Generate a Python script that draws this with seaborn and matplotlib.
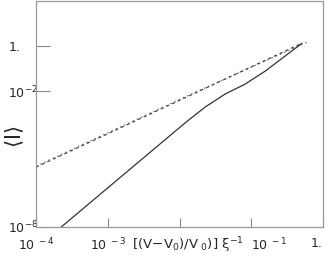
import matplotlib
matplotlib.use("Agg")
import matplotlib.pyplot as plt
import seaborn as sns
import pandas as pd

# ---- data ----
x_solid = [2.23e-4, 1.233e-2, 2.265e-2, 4.31e-2, 8.18e-2, 0.1556, 0.2951, 0.509]
y_solid = [9.8e-9, 4.37e-4, 2.0e-3, 7.6e-3, 2.09e-2, 7.8e-2, 0.363, 1.35]

x_dash = [1.0e-4, 1.233e-2, 0.509]
y_dash = [4.47e-6, 5.5e-3, 1.35]

x_dot = [1.0e-4, 1.233e-2, 0.598]
y_dot = [4.9e-6, 6.0e-3, 1.5]

x_ticks = [1e-4, 1e-3, 1e-2, 1e-1, 1.0]
x_ticklabels = [r"$\mathregular{10^{\ -4}}$", r"$\mathregular{10^{\ -3}}$", "",
                r"$\mathregular{10^{\ -1}}$", "1."]
y_ticks = [1e-8, 1e-2, 1.0]
y_ticklabels = [r"$\mathregular{10^{-8}}$", r"$\mathregular{10^{-2}}$", "1."]

x_label = r"$\mathregular{[(V\!-\!V_0)/V_{\ 0})]\ \xi^{-1}}$"
y_label = r"$\mathregular{\langle I \rangle}$"

sns.set_style("white")
plt.rcParams["font.family"] = ["DejaVu Sans"]

fig = plt.figure(figsize=(3.31, 2.57), dpi=100)
ax = fig.add_axes([36 / 331, 1 - 227 / 257, 287 / 331, 226 / 257])
ax.set_xscale("log")
ax.set_yscale("log")

df_s = pd.DataFrame({"x": x_solid, "y": y_solid})
df_d = pd.DataFrame({"x": x_dash, "y": y_dash})
df_o = pd.DataFrame({"x": x_dot, "y": y_dot})

sns.lineplot(data=df_o, x="x", y="y", ax=ax, color="#777777", lw=0.9,
             estimator=None, sort=False)
ax.lines[-1].set_dashes([1.2, 2.5])
sns.lineplot(data=df_d, x="x", y="y", ax=ax, color="#444444", lw=0.9,
             estimator=None, sort=False)
ax.lines[-1].set_dashes([2.5, 2.5])
sns.lineplot(data=df_s, x="x", y="y", ax=ax, color="#333333", lw=0.9,
             estimator=None, sort=False)

ax.set_xlim(1e-4, 1.0)
ax.set_ylim(1e-8, 1e2)

ax.set_xticks(x_ticks)
ax.set_xticklabels(x_ticklabels)
ax.set_yticks(y_ticks)
ax.set_yticklabels(y_ticklabels)
ax.minorticks_off()

ax.tick_params(axis="x", direction="in", length=6.5, width=0.8, color="#888888",
               pad=7, labelsize=9, bottom=True)
ax.tick_params(axis="y", direction="in", length=10, width=0.8, color="#888888",
               pad=20, labelsize=9, left=True)
for t in ax.get_yticklabels():
    t.set_horizontalalignment("left")
    t.set_verticalalignment("center_baseline")
xl = ax.get_xticklabels()
xl[3].set_horizontalalignment("left")
xl[4].set_horizontalalignment("right")

for s in ax.spines.values():
    s.set_color("#999999")
    s.set_linewidth(0.9)

ax.set_xlabel(x_label, fontsize=9.5)
ax.xaxis.set_label_coords(0.53, -0.082)
ax.xaxis.label.set_verticalalignment("center")
ax.set_ylabel(y_label, fontsize=15)
ax.yaxis.set_label_coords(-0.075, 0.40)
ax.yaxis.label.set_verticalalignment("center")

fig.savefig("out.png", dpi=100)
